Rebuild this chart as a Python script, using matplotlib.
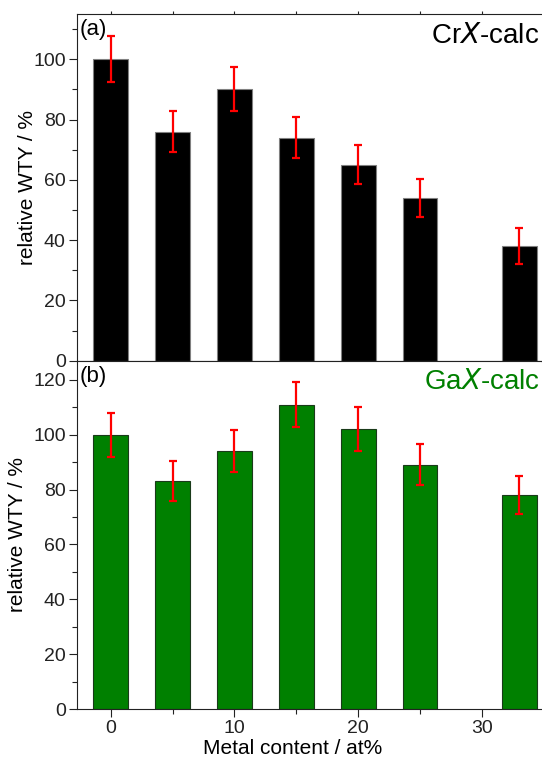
import matplotlib
matplotlib.use('Agg')
import matplotlib.pyplot as plt
from matplotlib.ticker import MultipleLocator

plt.rcParams['font.family'] = ['Liberation Sans', 'DejaVu Sans']

# metal content (at%)
content = [0, 5, 10, 15, 20, 25, 33]

# relative WTY (%) and error
cr_wty = [100, 76, 90, 74, 65, 54, 38]
cr_err = [7.7, 6.9, 7.3, 6.8, 6.5, 6.2, 5.9]
ga_wty = [100, 83, 94, 111, 102, 89, 78]
ga_err = [8.0, 7.3, 7.6, 8.3, 8.0, 7.5, 7.0]

fig = plt.figure(figsize=(5.42, 7.60), dpi=100)
ax1 = fig.add_axes([0.142, 0.5254, 0.857, 0.4562])
ax2 = fig.add_axes([0.142, 0.0671, 0.857, 0.4583], sharex=ax1)

panels = [
    (ax1, cr_wty, cr_err, 'black', '#808080', 115, '(a)', r'Cr$\it{X}$-calc', 'black', -0.085),
    (ax2, ga_wty, ga_err, '#008000', '#1a3a1a', 127, '(b)', r'Ga$\it{X}$-calc', '#008000', -0.108),
]

for ax, vals, errs, color, edge, ytop, tag, name, name_color, lab_x in panels:
    ax.bar(content, vals, width=2.8, color=color, edgecolor=edge, linewidth=0.8, zorder=2)
    ax.errorbar(content, vals, yerr=errs, fmt='none', ecolor='red',
                elinewidth=1.6, capsize=3, capthick=1.6, zorder=3)
    ax.set_ylim(0, ytop)
    ax.set_xlim(-2.72, 34.8)
    ax.yaxis.set_major_locator(MultipleLocator(20))
    ax.yaxis.set_minor_locator(MultipleLocator(10))
    ax.xaxis.set_major_locator(MultipleLocator(10))
    ax.xaxis.set_minor_locator(MultipleLocator(5))
    ax.tick_params(axis='both', which='major', direction='out', length=6,
                   width=0.8, labelsize=14, pad=2, colors='#222222')
    ax.tick_params(axis='both', which='minor', direction='out', length=3.5,
                   width=0.8, colors='#222222')
    ax.spines['right'].set_visible(False)
    for s in ['left', 'bottom', 'top']:
        ax.spines[s].set_linewidth(0.8)
        ax.spines[s].set_color('#222222')
    ax.set_ylabel('relative WTY / %', fontsize=15)
    ax.yaxis.set_label_coords(lab_x, 0.5)
    ax.text(0.006, 0.985, tag, transform=ax.transAxes, ha='left', va='top', fontsize=16)
    ax.text(0.996, 0.975, name, transform=ax.transAxes, ha='right', va='top',
            fontsize=20, color=name_color)

ax1.tick_params(axis='x', which='both', top=True, labelbottom=False, length=2.5)
ax2.set_xlabel('Metal content / at%', fontsize=15, labelpad=1, x=0.465)

fig.savefig('out.png', dpi=100)
